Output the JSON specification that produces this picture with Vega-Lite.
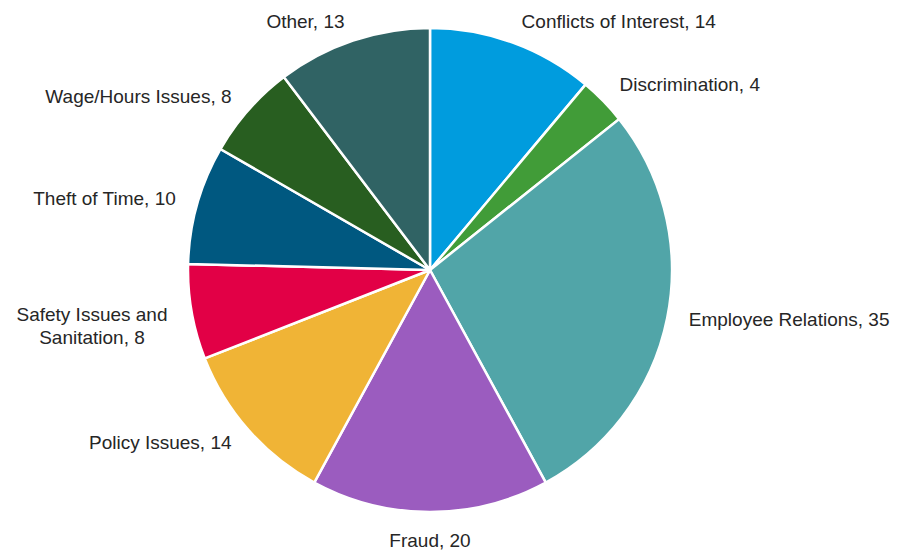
{
  "$schema": "https://vega.github.io/schema/vega-lite/v6.json",
  "width": 860,
  "height": 540,
  "autosize": "none",
  "padding": {"left": 0, "top": 0, "right": 49, "bottom": 10},
  "background": "white",
  "config": {"view": {"stroke": null}},
  "data": {
    "values": [
      {"category": "Conflicts of Interest", "value": 14},
      {"category": "Discrimination", "value": 4},
      {"category": "Employee Relations", "value": 35},
      {"category": "Fraud", "value": 20},
      {"category": "Policy Issues", "value": 14},
      {"category": "Safety Issues and\nSanitation", "value": 8},
      {"category": "Theft of Time", "value": 10},
      {"category": "Wage/Hours Issues", "value": 8},
      {"category": "Other", "value": 13}
    ]
  },
  "transform": [
    {"window": [{"op": "row_number", "as": "idx"}]},
    {"window": [{"op": "sum", "field": "value", "as": "cum"}], "frame": [null, 0]},
    {"joinaggregate": [{"op": "sum", "field": "value", "as": "total"}]},
    {"calculate": "datum.cum - datum.value / 2", "as": "midv"},
    {"calculate": "sin(2 * PI * datum.midv / datum.total)", "as": "s"},
    {"calculate": "indexof(datum.category, '\\n') >= 0", "as": "multi"},
    {"calculate": "datum.category + ', ' + datum.value", "as": "label"}
  ],
  "layer": [
    {
      "mark": {"type": "arc", "outerRadius": 242, "stroke": "white", "strokeWidth": 2.5},
      "encoding": {
        "theta": {"field": "value", "type": "quantitative", "stack": true},
        "order": {"field": "idx", "type": "quantitative"},
        "color": {
          "field": "category",
          "type": "nominal",
          "sort": null,
          "legend": null,
          "scale": {
            "domain": ["Conflicts of Interest", "Discrimination", "Employee Relations", "Fraud", "Policy Issues", "Safety Issues and\nSanitation", "Theft of Time", "Wage/Hours Issues", "Other"],
            "range": ["#009CDE", "#419C38", "#51A5A8", "#9B5CBF", "#F0B436", "#E20046", "#005880", "#285E20", "#306364"]
          }
        }
      }
    },
    {
      "transform": [{"filter": "datum.s > 0.3"}],
      "mark": {"type": "text", "radius": 262, "align": "left", "baseline": "middle", "font": "Liberation Sans", "fontSize": 19, "color": "#262626", "lineBreak": "\n", "dx": 2, "dy": -2},
      "encoding": {
        "theta": {"field": "midv", "type": "quantitative", "stack": false},
        "text": {"field": "label", "type": "nominal"}
      }
    },
    {
      "transform": [{"filter": "datum.s < -0.3 && !datum.multi"}],
      "mark": {"type": "text", "radius": 262, "align": "right", "baseline": "middle", "font": "Liberation Sans", "fontSize": 19, "color": "#262626", "lineBreak": "\n", "dx": -2},
      "encoding": {
        "theta": {"field": "midv", "type": "quantitative", "stack": false},
        "text": {"field": "label", "type": "nominal"}
      }
    },
    {
      "transform": [{"filter": "datum.s < -0.3 && datum.multi"}],
      "mark": {"type": "text", "radius": 262, "align": "center", "baseline": "middle", "font": "Liberation Sans", "fontSize": 19, "color": "#262626", "lineBreak": "\n", "lineHeight": 23, "dx": -80},
      "encoding": {
        "theta": {"field": "midv", "type": "quantitative", "stack": false},
        "text": {"field": "label", "type": "nominal"}
      }
    },
    {
      "transform": [{"filter": "abs(datum.s) <= 0.3"}],
      "mark": {"type": "text", "radius": 262, "align": "center", "baseline": "top", "font": "Liberation Sans", "fontSize": 19, "color": "#262626", "lineBreak": "\n"},
      "encoding": {
        "theta": {"field": "midv", "type": "quantitative", "stack": false},
        "text": {"field": "label", "type": "nominal"}
      }
    }
  ]
}
